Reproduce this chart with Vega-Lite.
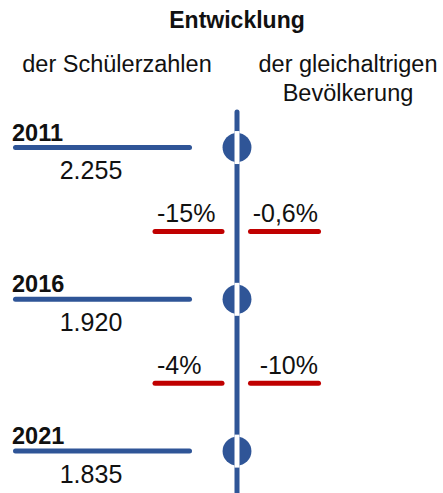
{
  "$schema": "https://vega.github.io/schema/vega-lite/v6.json",
  "width": 443,
  "height": 493,
  "padding": 0,
  "autosize": {"type": "none"},
  "background": "white",
  "config": {
    "view": {"stroke": null},
    "font": "Liberation Sans",
    "text": {"font": "Liberation Sans", "color": "#111111"}
  },
  "datasets": {
    "years": [
      {"year": 2011, "label": "2011", "schueler": "2.255"},
      {"year": 2016, "label": "2016", "schueler": "1.920"},
      {"year": 2021, "label": "2021", "schueler": "1.835"}
    ],
    "changes": [
      {"period": "2011–2016", "mid": 2013.5, "schueler": "-15%", "bevoelkerung": "-0,6%"},
      {"period": "2016–2021", "mid": 2018.5, "schueler": "-4%", "bevoelkerung": "-10%"}
    ],
    "headers": [
      {"text": "der Schülerzahlen", "side": 117, "line": 2008.52},
      {"text": "der gleichaltrigen", "side": 348, "line": 2008.52},
      {"text": "Bevölkerung", "side": 348, "line": 2009.47}
    ]
  },
  "encoding": {
    "x": {"type": "quantitative", "scale": {"domain": [0, 443], "nice": false, "zero": false}, "axis": null},
    "y": {"type": "quantitative", "scale": {"domain": [2006.14, 2022.38], "nice": false, "zero": false, "reverse": true}, "axis": null}
  },
  "layer": [
    {
      "data": {"values": [{"t": "Entwicklung"}]},
      "mark": {"type": "text", "fontWeight": "bold", "fontSize": 23, "align": "center", "baseline": "alphabetic"},
      "encoding": {
        "x": {"datum": 237, "type": "quantitative"},
        "y": {"datum": 2007.06, "type": "quantitative"},
        "text": {"field": "t"}
      }
    },
    {
      "data": {"name": "headers"},
      "mark": {"type": "text", "fontSize": 23.5, "align": "center", "baseline": "alphabetic"},
      "encoding": {
        "x": {"field": "side", "type": "quantitative"},
        "y": {"field": "line", "type": "quantitative"},
        "text": {"field": "text"}
      }
    },
    {
      "data": {"values": [{"from": 2009.83, "to": 2022.6}]},
      "mark": {"type": "rule", "color": "#2F5597", "strokeWidth": 5, "strokeCap": "round"},
      "encoding": {
        "x": {"datum": 237, "type": "quantitative"},
        "y": {"field": "from", "type": "quantitative"},
        "y2": {"field": "to"}
      }
    },
    {
      "data": {"name": "years"},
      "mark": {"type": "point", "shape": "circle", "filled": true, "opacity": 1, "color": "#2F5597", "size": 835},
      "encoding": {
        "x": {"datum": 237, "type": "quantitative"},
        "y": {"field": "year", "type": "quantitative"}
      }
    },
    {
      "data": {"name": "years"},
      "mark": {"type": "tick", "orient": "vertical", "size": 33, "thickness": 5, "color": "white", "opacity": 1},
      "encoding": {
        "x": {"datum": 237, "type": "quantitative"},
        "y": {"field": "year", "type": "quantitative"}
      }
    },
    {
      "data": {"name": "years"},
      "mark": {"type": "rule", "color": "#2F5597", "strokeWidth": 5, "strokeCap": "round"},
      "encoding": {
        "x": {"datum": 15.5, "type": "quantitative"},
        "x2": {"datum": 189.5},
        "y": {"field": "year", "type": "quantitative"}
      }
    },
    {
      "data": {"name": "years"},
      "mark": {"type": "text", "fontWeight": "bold", "fontSize": 23.5, "align": "left", "baseline": "alphabetic", "dy": -7},
      "encoding": {
        "x": {"datum": 12, "type": "quantitative"},
        "y": {"field": "year", "type": "quantitative"},
        "text": {"field": "label"}
      }
    },
    {
      "data": {"name": "years"},
      "mark": {"type": "text", "fontSize": 25, "align": "center", "baseline": "alphabetic", "dy": 31.5},
      "encoding": {
        "x": {"datum": 91, "type": "quantitative"},
        "y": {"field": "year", "type": "quantitative"},
        "text": {"field": "schueler"}
      }
    },
    {
      "data": {"name": "changes"},
      "mark": {"type": "rule", "color": "#C00000", "strokeWidth": 5, "strokeCap": "round", "yOffset": 8},
      "encoding": {
        "x": {"datum": 155, "type": "quantitative"},
        "x2": {"datum": 222},
        "y": {"field": "mid", "type": "quantitative"}
      }
    },
    {
      "data": {"name": "changes"},
      "mark": {"type": "rule", "color": "#C00000", "strokeWidth": 5, "strokeCap": "round", "yOffset": 8},
      "encoding": {
        "x": {"datum": 250.5, "type": "quantitative"},
        "x2": {"datum": 318.5},
        "y": {"field": "mid", "type": "quantitative"}
      }
    },
    {
      "data": {"name": "changes"},
      "mark": {"type": "text", "fontSize": 25, "align": "left", "baseline": "alphabetic", "dy": -1},
      "encoding": {
        "x": {"datum": 157, "type": "quantitative"},
        "y": {"field": "mid", "type": "quantitative"},
        "text": {"field": "schueler"}
      }
    },
    {
      "data": {"name": "changes"},
      "mark": {"type": "text", "fontSize": 25, "align": "right", "baseline": "alphabetic", "dy": -1},
      "encoding": {
        "x": {"datum": 318, "type": "quantitative"},
        "y": {"field": "mid", "type": "quantitative"},
        "text": {"field": "bevoelkerung"}
      }
    }
  ]
}
